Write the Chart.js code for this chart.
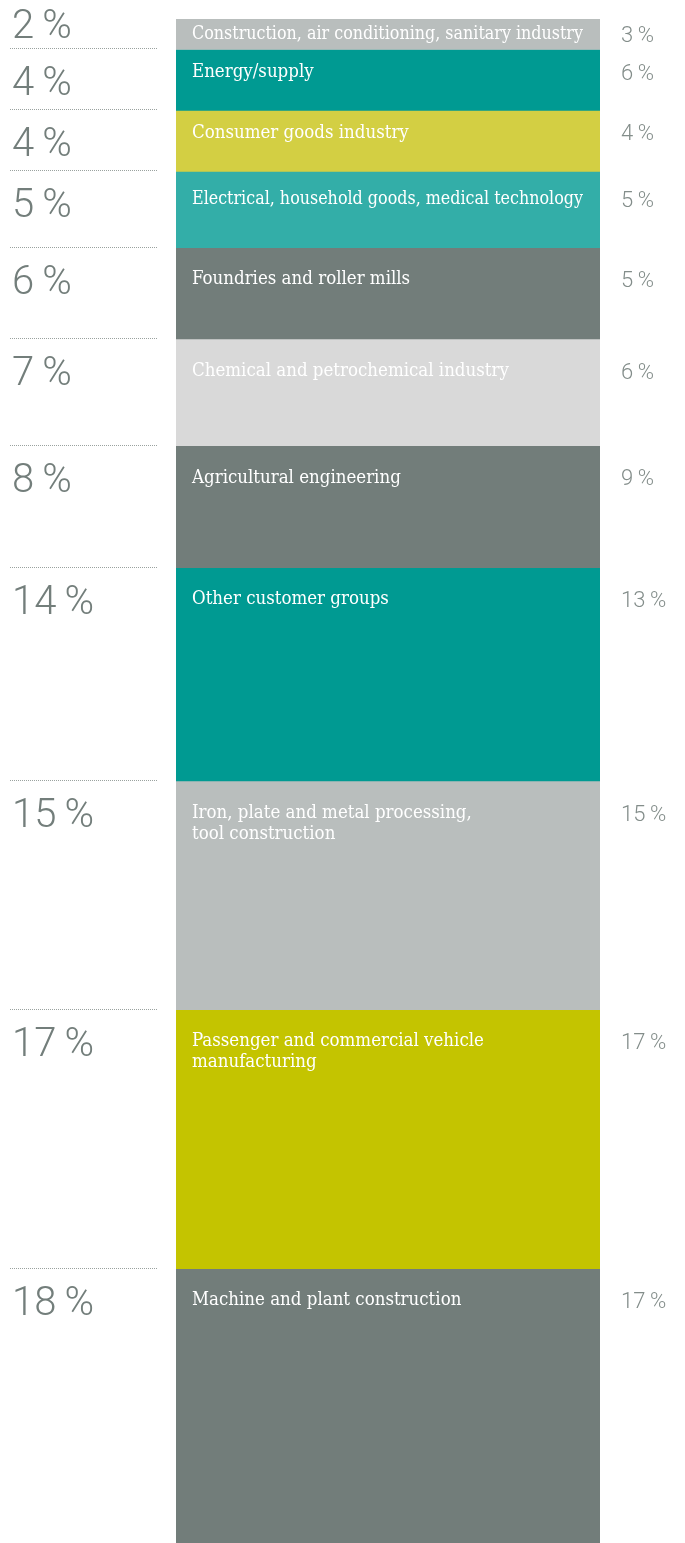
<!DOCTYPE html>
<html>
<head>
<meta charset="utf-8">
<script src="https://cdn.jsdelivr.net/npm/chart.js@4.4.1/dist/chart.umd.min.js"></script>
<style>
  html, body { margin: 0; padding: 0; background: #fff; }
  #wrap { width: 685px; height: 1543px; position: relative; }
</style>
</head>
<body>
<div id="wrap"><canvas id="GROUPS"></canvas></div>
<script>
// customer groups, top to bottom
const groups = [
  ['Construction, air conditioning, sanitary industry'],
  ['Energy/supply'],
  ['Consumer goods industry'],
  ['Electrical, household goods, medical technology'],
  ['Foundries and roller mills'],
  ['Chemical and petrochemical industry'],
  ['Agricultural engineering'],
  ['Other customer groups'],
  ['Iron, plate and metal processing,', 'tool construction'],
  ['Passenger and commercial vehicle', 'manufacturing'],
  ['Machine and plant construction']
];
// share of sales, current year (bar heights, left labels)
const shareNow = [2, 4, 4, 5, 6, 7, 8, 14, 15, 17, 18];
// share of sales, previous year (right labels)
const sharePrev = [3, 6, 4, 5, 5, 6, 9, 13, 15, 17, 17];

const colors = ['#b9bebd', '#009a92', '#d3cf43', '#33aea8', '#727d7a', '#d9d9d9',
                '#727d7a', '#009a92', '#b9bebd', '#c4c400', '#727d7a'];

const labelsPlugin = {
  id: 'sideLabels',
  afterDatasetsDraw(chart) {
    const ctx = chart.ctx;
    ctx.save();
    chart.data.datasets.forEach((ds, i) => {
      const bar = chart.getDatasetMeta(i).data[0];
      const top = Math.min(bar.y, bar.base);
      const bottom = Math.max(bar.y, bar.base);
      const h = bottom - top;
      const left = bar.x - bar.width / 2;
      const right = bar.x + bar.width / 2;

      // dotted separator on the left
      if (i > 0) {
        ctx.strokeStyle = '#9aa29f';
        ctx.lineWidth = 1;
        ctx.setLineDash([1, 1]);
        ctx.beginPath();
        ctx.moveTo(10, Math.round(top) - 0.5);
        ctx.lineTo(157, Math.round(top) - 0.5);
        ctx.stroke();
        ctx.setLineDash([]);
      }

      // big current-year value
      ctx.fillStyle = '#737e7b';
      ctx.font = '300 40px Roboto';
      ctx.textAlign = 'left';
      ctx.textBaseline = 'alphabetic';
      const bigTop = Math.min(top + 17, bottom - 40);
      ctx.fillText(shareNow[i] + '\u2009%', 12, bigTop + 29);

      // segment label
      const off = h < 40 ? h / 2 : Math.min(32, h * 0.37);
      ctx.fillStyle = '#ffffff';
      ctx.font = '18.5px "DejaVu Serif Condensed"';
      ctx.textBaseline = 'middle';
      groups[i].forEach((line, k) => {
        ctx.fillText(line, left + 16, top + off + k * 21, right - left - 33);
      });

      // previous-year value
      ctx.fillStyle = '#838d8a';
      ctx.font = '300 22px Roboto';
      ctx.fillText(sharePrev[i] + '\u2009%', 621, top + off + 2);
    });
    ctx.restore();
  }
};

new Chart(document.getElementById('GROUPS'), {
  type: 'bar',
  data: {
    labels: ['Customer groups'],
    datasets: groups.map((g, i) => ({
      label: g.join(' '),
      data: [shareNow[i]],
      backgroundColor: colors[i],
      borderWidth: 0,
      barPercentage: 1,
      categoryPercentage: 1
    }))
  },
  options: {
    responsive: true,
    maintainAspectRatio: false,
    animation: false,
    layout: { padding: { left: 176, right: 85, top: 19, bottom: 0 } },
    plugins: { legend: { display: false }, tooltip: { enabled: false } },
    scales: {
      x: { stacked: true, display: false },
      y: { stacked: true, reverse: true, min: 0, max: 100, display: false }
    }
  },
  plugins: [labelsPlugin]
});
</script>
</body>
</html>
